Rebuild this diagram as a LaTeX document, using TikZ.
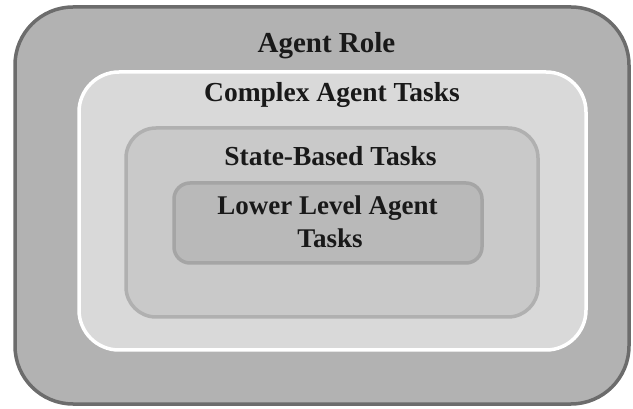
\documentclass[tikz,border=0pt]{standalone}
\usepackage{fontspec}
\setmainfont{Liberation Serif}
\definecolor{outerfill}{RGB}{178,178,178}
\definecolor{outerline}{RGB}{108,108,108}
\definecolor{cfill}{RGB}{217,217,217}
\definecolor{sfill}{RGB}{201,201,201}
\definecolor{sline}{RGB}{176,176,176}
\definecolor{lfill}{RGB}{185,185,185}
\definecolor{lline}{RGB}{165,165,165}
\definecolor{txt}{RGB}{25,25,25}
\tikzset{
  layer/.style={rounded corners=#1, line width=3.5pt},
  lbl/.style={anchor=base, inner sep=0pt, text=txt, font=\bfseries},
}
\begin{document}
\begin{tikzpicture}[x=1pt,y=-1pt]
\useasboundingbox (0,0) rectangle (633,409);
\path[layer=58, draw=outerline, fill=outerfill] (15,7) rectangle (629,404);
\path[layer=40, draw=white, fill=cfill] (79,72) rectangle (586,350);
\path[layer=30, draw=sline, fill=sfill] (126,128) rectangle (538,317);
\path[layer=16, draw=lline, fill=lfill] (174,183) rectangle (482,263);
\node[lbl, font=\bfseries\fontsize{29}{33}\selectfont] (role) at (326.5,53) {Agent Role};
\node[lbl, font=\bfseries\fontsize{27.5}{33}\selectfont] (complex) at (332,102) {Complex Agent Tasks};
\node[lbl, font=\bfseries\fontsize{27.5}{33}\selectfont] (state) at (330.5,166) {State-Based Tasks};
\node[lbl, font=\bfseries\fontsize{27}{33}\selectfont] (lower1) at (327.5,215) {Lower Level Agent};
\node[lbl, font=\bfseries\fontsize{27}{33}\selectfont] (lower2) at (330,248) {Tasks};
\end{tikzpicture}
\end{document}
